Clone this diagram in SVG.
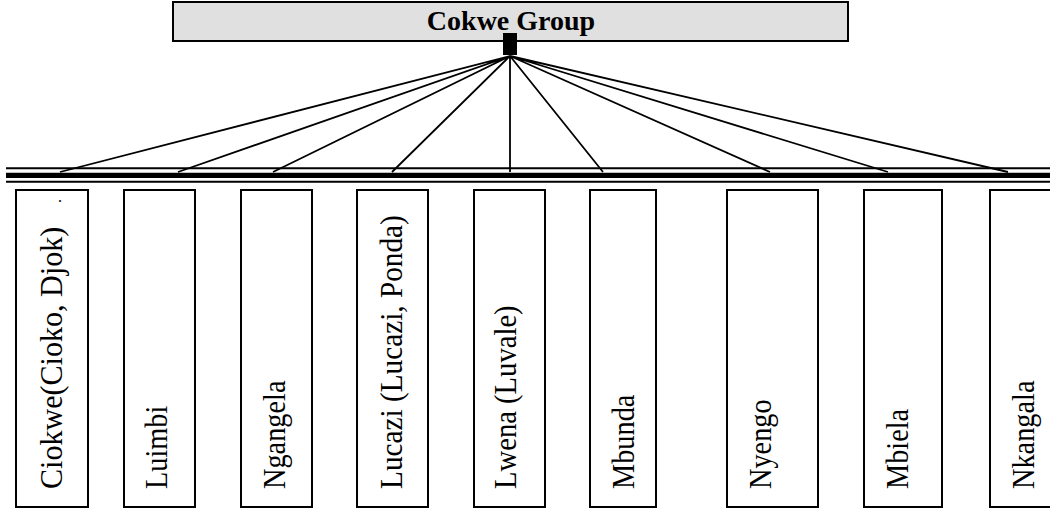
<svg xmlns="http://www.w3.org/2000/svg" width="1050" height="510" viewBox="0 0 1050 510">
<style>
.box{fill:#fff;stroke:#000;stroke-width:2}
.lbl{font-family:"Liberation Serif","Times New Roman",serif;font-size:32px;fill:#000}
.title{font-family:"Liberation Serif","Times New Roman",serif;font-size:28px;font-weight:bold;fill:#000}
.fan{stroke:#000;stroke-width:1.8;fill:none}
</style>
<rect width="1050" height="510" fill="#fff"/>
<g id="root">
<rect x="173" y="2" width="675" height="39" fill="#e0e0e0" stroke="#000" stroke-width="2"/>
<text class="title" x="511" y="30" text-anchor="middle">Cokwe Group</text>
</g>
<g id="connectors">
<line x1="6" y1="168.3" x2="1050" y2="168.3" stroke="#000" stroke-width="2"/>
<line x1="6" y1="175.3" x2="1050" y2="175.3" stroke="#000" stroke-width="5.3"/>
<line x1="6" y1="181.7" x2="1050" y2="181.7" stroke="#000" stroke-width="2"/>
<path class="fan" d="M510 56L60 172M510 56L178 172M510 56L273 172M510 56L392 172M510 56L510 172M510 56L603 172M510 56L770 172M510 56L888 172M510 56L1008 172"/>
<rect x="503" y="33" width="14" height="22" fill="#000"/>
</g>
<g id="n1"><rect class="box" x="16" y="190" width="72" height="317"/><text class="lbl" transform="translate(62,489) rotate(-90) scale(0.94,1)">Ciokwe(Cioko, Djok)</text><text class="lbl" style="font-size:16px" transform="translate(61,203) rotate(-90)">.</text></g>
<g id="n2"><rect class="box" x="124" y="190" width="71" height="317"/><text class="lbl" transform="translate(167,489) rotate(-90) scale(0.885,1)">Luimbi</text></g>
<g id="n3"><rect class="box" x="241" y="190" width="71" height="317"/><text class="lbl" transform="translate(285,489) rotate(-90) scale(0.885,1)">Ngangela</text></g>
<g id="n4"><rect class="box" x="357" y="190" width="71" height="317"/><text class="lbl" transform="translate(402,489) rotate(-90) scale(0.915,1)">Lucazi (Lucazi, Ponda)</text></g>
<g id="n5"><rect class="box" x="474" y="190" width="71" height="317"/><text class="lbl" transform="translate(516,489) rotate(-90) scale(0.895,1)">Lwena (Luvale)</text></g>
<g id="n6"><rect class="box" x="590" y="190" width="66" height="317"/><text class="lbl" transform="translate(634,489) rotate(-90) scale(0.885,1)">Mbunda</text></g>
<g id="n7"><rect class="box" x="727" y="190" width="91" height="317"/><text class="lbl" transform="translate(771,489) rotate(-90) scale(0.885,1)">Nyengo</text></g>
<g id="n8"><rect class="box" x="864" y="190" width="78" height="317"/><text class="lbl" transform="translate(908,489) rotate(-90) scale(0.885,1)">Mbiela</text></g>
<g id="n9"><rect class="box" x="990" y="190" width="70" height="317"/><text class="lbl" transform="translate(1034,489) rotate(-90) scale(0.885,1)">Nkangala</text></g>
</svg>
